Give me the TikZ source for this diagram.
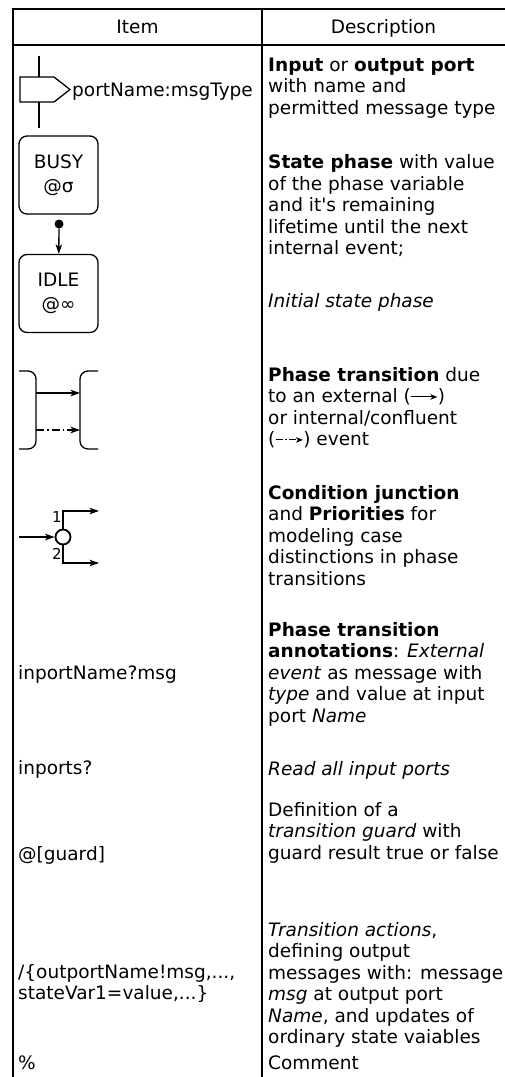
\documentclass[tikz,border=0pt]{standalone}
\usepackage{fontspec}
\setmainfont{DejaVu Sans}
\usetikzlibrary{arrows.meta}
\newcommand{\dtxt}[1]{\parbox[t]{236pt}{\raggedright #1}}
\newcommand{\inarr}{\tikz[baseline=-0.55ex]\draw[line width=1pt,-{Stealth[length=7pt,width=5.5pt,inset=2pt]}] (0pt,0pt) -- (26pt,0pt);}
\newcommand{\inarrd}{\tikz[baseline=-0.55ex]\draw[line width=1pt,dash pattern=on 7pt off 2.5pt on 1.5pt off 2.5pt,-{Stealth[length=7pt,width=5.5pt,inset=2pt]}] (0pt,0pt) -- (27pt,0pt);}
\begin{document}
\begin{tikzpicture}[x=1pt,y=-1pt,
  font=\fontsize{18.5}{21.5}\selectfont,
  tbl/.style={line width=1.8pt},
  shp/.style={line width=1.3pt},
  arr/.style={-{Stealth[length=9.5pt,width=6.5pt,inset=2.5pt]}},
  dd/.style={dash pattern=on 8pt off 3pt on 1.5pt off 3pt},
  desc/.style={anchor=base west,inner sep=0pt},
  itm/.style={anchor=base west,inner sep=0pt},
  statebox/.style={draw,shp,rounded corners=8pt,minimum width=79pt,minimum height=78pt,align=center,inner sep=0pt}
]
\useasboundingbox (0,0) rectangle (505,1077);
% table
\coordinate (tl) at (13,9); \coordinate (tm) at (262,9); \coordinate (tr) at (505,9);
\coordinate (bl) at (13,1077); \coordinate (bm) at (262,1077);
\coordinate (hl) at (13,45); \coordinate (hr) at (505,45);
\draw[tbl] (tr) -- (tl) -- (bl);
\draw[tbl] (tm) -- (bm);
\draw[tbl] (hl) -- (hr);
\node[anchor=base] (hitem) at (137.5,33.5) {Item};
\node[anchor=base] (hdesc) at (383.5,33.5) {Description};
% port
\coordinate (pv1) at (39,56); \coordinate (pv2) at (39,77);
\coordinate (pv3) at (39,102); \coordinate (pv4) at (39,128);
\draw[shp] (20,77) -- (54,77) -- (70,89.5) -- (54,102) -- (20,102) -- cycle;
\draw[shp] (pv1) -- (pv2);
\draw[shp] (pv3) -- (pv4);
\node[itm] (pname) at (72,96) {portName:msgType};
\node[desc] (d1) at (268,71) {\dtxt{\textbf{Input} or \textbf{output port}\\with name and\\permitted message type}};
% state phases
\node[statebox] (busy) at (58.5,175) {BUSY\\[2pt]@σ};
\node[circle,fill,inner sep=0pt,minimum size=9pt] (dot) at (59,224) {};
\node[statebox] (idle) at (58.5,293.5) {IDLE\\[2pt]@∞};
\draw[shp,arr] (dot) -- (idle);
\node[desc] (d2) at (268,168.5) {\dtxt{\textbf{State phase} with value\\of the phase variable\\and it\textquotesingle s remaining\\lifetime until the next\\internal event;}};
\node[desc] (d2b) at (268,307) {\textit{Initial state phase}};
% transitions
\draw[shp,rounded corners=8pt] (19,371) -- (36,371) -- (36,449) -- (19,449);
\draw[shp,rounded corners=8pt] (98,371) -- (80,371) -- (80,449) -- (98,449);
\coordinate (a1s) at (36,393); \coordinate (a1e) at (80,393);
\coordinate (a2s) at (36,430); \coordinate (a2e) at (80,430);
\draw[shp,arr] (a1s) -- (a1e);
\draw[shp,arr,dd] (a2s) -- (a2e);
\node[desc] (d3) at (268,381) {\dtxt{\textbf{Phase transition} due\\to an external (\inarr)\\or internal/confluent\\(\inarrd) event}};
% condition junction
\node[circle,draw,line width=1.8pt,minimum size=15pt,inner sep=0pt] (cj) at (63,537) {};
\coordinate (cin) at (19,537); \coordinate (c1) at (99,511); \coordinate (c2) at (99,563);
\draw[shp,arr] (cin) -- (cj);
\draw[shp,arr] (cj) |- (c1);
\draw[shp,arr] (cj) |- (c2);
\node[font=\fontsize{15}{17}\selectfont] (l1) at (57,517) {1};
\node[font=\fontsize{15}{17}\selectfont] (l2) at (57,554) {2};
\node[desc] (d4) at (268,499) {\dtxt{\textbf{Condition junction}\\and \textbf{Priorities} for\\modeling case\\distinctions in phase\\transitions}};
% annotations
\node[itm] (i5) at (18,679) {inportName?msg};
\node[desc] (d5) at (268,636) {\dtxt{\textbf{Phase transition}\\\textbf{annotations}: \textit{External}\\\textit{event} as message with\\\textit{type} and value at input\\port \textit{Name}}};
\node[itm] (i6) at (18,774) {inports?};
\node[desc] (d6) at (268,775) {\textit{Read all input ports}};
\node[desc] (d7) at (268,816) {\dtxt{Definition of a\\\textit{transition guard} with\\guard result true or false}};
\node[itm] (i7) at (18,860) {@[guard]};
\node[desc] (d8) at (268,936) {\dtxt{\textit{Transition actions},\\defining output\\messages with: message\\\textit{msg} at output port\\\textit{Name}, and updates of\\ordinary state vaiables}};
\node[itm] (i8) at (18,978) {\dtxt{/\{outportName!msg,...,\\stateVar1=value,...\}}};
\node[itm] (i9) at (18,1069) {\%};
\node[desc] (d9) at (268,1069) {Comment};
\end{tikzpicture}
\end{document}
